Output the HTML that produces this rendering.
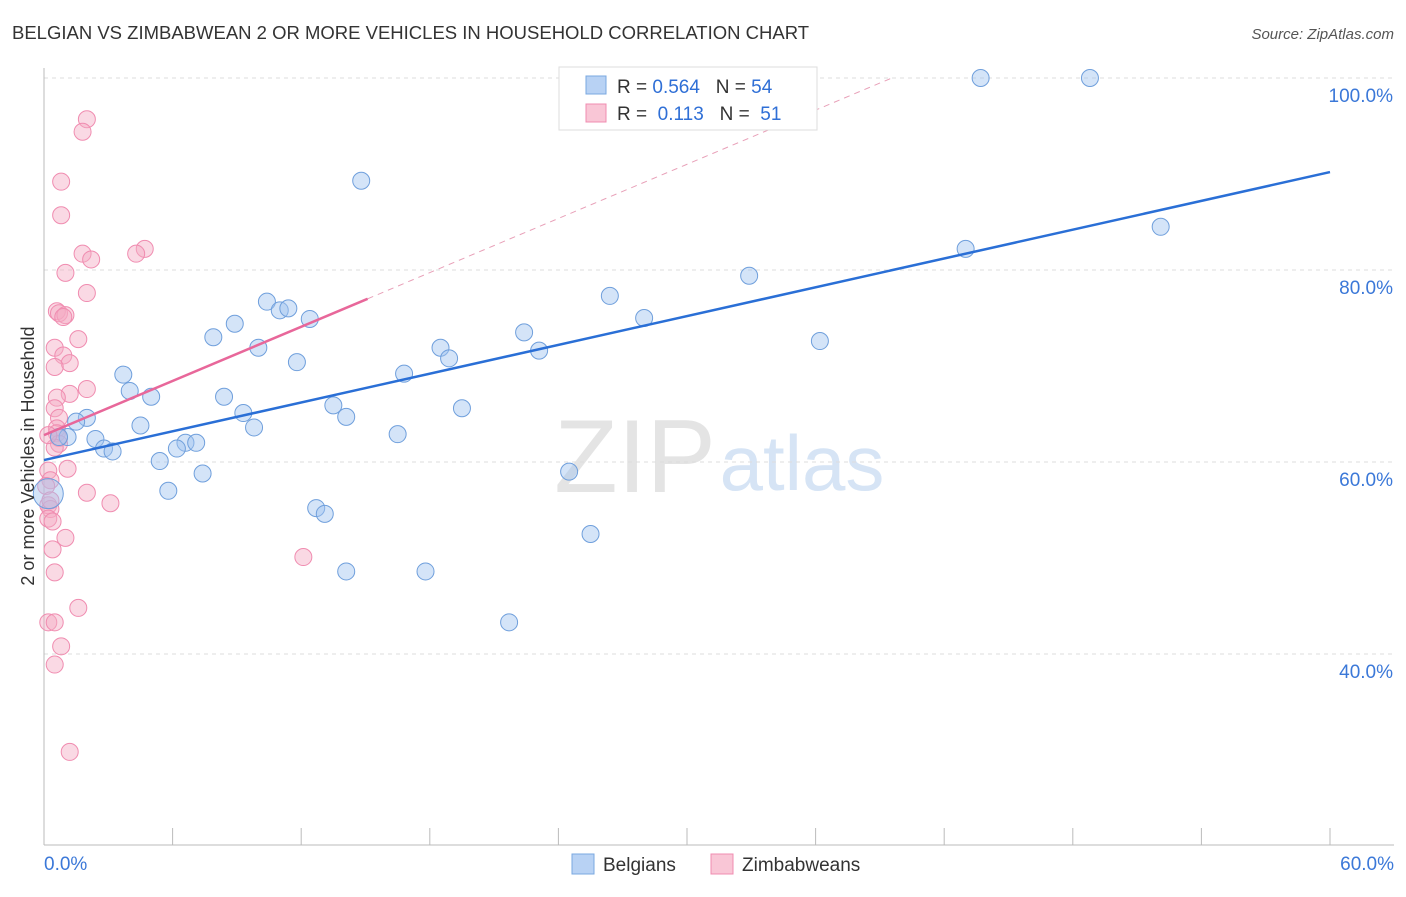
<!DOCTYPE html>
<html><head><meta charset="utf-8"><style>
body{margin:0;background:#fff;font-family:"Liberation Sans",sans-serif;}
svg text{font-family:"Liberation Sans",sans-serif;}
</style></head><body>
<svg id="chart" width="1406" height="892">
<text x="12" y="39" font-size="18.5" fill="#333">BELGIAN VS ZIMBABWEAN 2 OR MORE VEHICLES IN HOUSEHOLD CORRELATION CHART</text>
<text x="1394" y="39" font-size="15" fill="#555" text-anchor="end" font-style="italic">Source: ZipAtlas.com</text>
<g>
<text x="635" y="492" font-size="104" fill="#e4e4e4" text-anchor="middle" font-family="Liberation Serif,serif">ZIP</text>
<text x="802" y="490" font-size="78" fill="#d6e4f5" text-anchor="middle">atlas</text>
</g>
<g id="grid"></g>
<g id="axes"></g>
<g id="marks"></g>
<text transform="translate(34,456) rotate(-90)" font-size="18" fill="#333" text-anchor="middle">2 or more Vehicles in Household</text>
<g>
<rect x="559" y="67" width="258" height="63" fill="#fff" stroke="#ddd"/>
<rect x="586" y="76" width="20" height="18" fill="#b8d2f4" stroke="#7aa8e0"/>
<rect x="586" y="104" width="20" height="18" fill="#f9c6d6" stroke="#f08cb0"/>
<text x="617" y="93" font-size="19" fill="#333">R = <tspan fill="#2f6fd6">0.564</tspan>&#160;&#160;&#160;N = <tspan fill="#2f6fd6">54</tspan></text>
<text x="617" y="120" font-size="19" fill="#333">R = &#160;<tspan fill="#2f6fd6">0.113</tspan>&#160;&#160;&#160;N = &#160;<tspan fill="#2f6fd6">51</tspan></text>
</g>
<g>
<rect x="572" y="854" width="22" height="20" fill="#b8d2f4" stroke="#7aa8e0"/>
<text x="603" y="871" font-size="19" fill="#333">Belgians</text>
<rect x="711" y="854" width="22" height="20" fill="#f9c6d6" stroke="#f08cb0"/>
<text x="742" y="871" font-size="19" fill="#333">Zimbabweans</text>
</g>
</svg>
<script>
const yTicks=[40,60,80,100];
const yTickLabels=["40.0%","60.0%","80.0%","100.0%"];
const xTickVals=[0,6,12,18,24,30,36,42,48,54,60];
const xLabelVals=[0,60];
const xLabels=["0.0%","60.0%"];
const belgX=[43.7,48.8,52.1,43.0,32.9,36.2,26.4,28.0,22.4,23.1,18.5,18.9,16.8,19.5,16.5,24.5,25.5,21.7,17.8,14.1,12.7,13.1,14.8,10.4,11.0,11.4,12.4,11.8,10.0,8.9,7.9,8.4,9.3,9.8,13.5,14.1,5.0,4.0,3.7,4.5,6.6,7.1,6.2,5.4,5.8,7.4,2.4,2.8,3.2,2.0,1.5,1.1,0.7,0.2];
const belgY=[100,100,84.5,82.2,79.4,72.6,77.3,75.0,73.5,71.6,71.9,70.8,69.2,65.6,62.9,59.0,52.5,43.3,48.6,48.6,55.2,54.6,89.3,76.7,75.8,76.0,74.9,70.4,71.9,74.4,73.0,66.8,65.1,63.6,65.9,64.7,66.8,67.4,69.1,63.8,62.0,62.0,61.4,60.1,57.0,58.8,62.4,61.4,61.1,64.6,64.2,62.6,62.6,56.7];
const zimX=[2.0,1.8,0.8,0.8,4.7,4.3,1.8,2.2,1.0,2.0,0.6,0.7,1.0,0.9,1.6,0.5,0.9,1.2,0.5,2.0,1.2,0.6,0.5,0.7,0.6,0.6,0.7,0.7,0.5,1.1,0.2,0.3,2.0,3.1,0.2,0.3,0.2,0.4,1.0,0.4,0.5,12.1,1.6,0.2,0.5,0.8,0.5,1.2,0.1,0.3,0.2];
const zimY=[95.7,94.4,89.2,85.7,82.2,81.7,81.7,81.1,79.7,77.6,75.7,75.5,75.3,75.1,72.8,71.9,71.1,70.3,69.9,67.6,67.1,66.7,65.6,64.6,63.5,63.0,62.5,61.9,61.5,59.3,59.1,58.1,56.8,55.7,55.5,55.1,54.1,53.8,52.1,50.9,48.5,50.1,44.8,43.3,43.3,40.8,38.9,29.8,57.5,56.0,62.8];
const belgTrend=[60.2,90.2];
const zimTrend=[62.8,77.0];
const zimTrendEnd=15.1;

const NS="http://www.w3.org/2000/svg";
const X=v=>44+v*(1286/60);
const Y=v=>78+(100-v)*9.6;
function mk(tag,attrs,parent){const e=document.createElementNS(NS,tag);for(const k in attrs)e.setAttribute(k,attrs[k]);document.getElementById(parent).appendChild(e);return e;}
yTicks.forEach((t,i)=>{
  const l=mk('line',{x1:44,x2:1394,y1:Y(t),y2:Y(t),stroke:'#ddd','stroke-dasharray':'4,4'},'grid');
  
  
  const tx=mk('text',{x:1393,y:Y(t)+24,'font-size':19,fill:'#3b78d8','text-anchor':'end'},'axes');
  tx.textContent=yTickLabels[i];
  
  
});
const ax=mk('line',{x1:44,x2:1394,y1:845,y2:845,stroke:'#bbb'},'axes');


const ay=mk('line',{x1:44,x2:44,y1:68,y2:845,stroke:'#bbb'},'axes');


xTickVals.forEach(t=>{
  const l=mk('line',{x1:X(t),x2:X(t),y1:828,y2:845,stroke:'#bbb'},'axes');
  
  
});
xLabelVals.forEach((t,i)=>{
  const tx=mk('text',{x:X(t)+(i==0?0:64),y:870,'font-size':19,fill:'#3b78d8','text-anchor':i==0?'start':'end'},'axes');
  tx.textContent=xLabels[i];
  
  
});
zimX.forEach((x,i)=>{
  const c=mk('circle',{cx:X(x),cy:Y(zimY[i]),r:8.5,fill:'rgba(245,170,195,0.45)',stroke:'#f08cb0','stroke-width':1},'marks');
  
  
});
belgX.forEach((x,i)=>{
  const big=(i===belgX.length-1);
  const c=mk('circle',{cx:X(x),cy:Y(belgY[i]),r:big?15:8.5,fill:'rgba(160,196,240,0.45)',stroke:'#6f9fdc','stroke-width':1},'marks');
  
  
});
const slope=(zimTrend[1]-zimTrend[0])/zimTrendEnd;
const xEndDash=(100-zimTrend[0])/slope;
const d=mk('line',{x1:X(zimTrendEnd),y1:Y(zimTrend[1]),x2:X(xEndDash),y2:Y(100),stroke:'#e8a0b8','stroke-dasharray':'6,5','stroke-width':1},'marks');


const zl=mk('line',{x1:X(0),y1:Y(zimTrend[0]),x2:X(zimTrendEnd),y2:Y(zimTrend[1]),stroke:'#e8679a','stroke-width':2.5},'marks');


const bl=mk('line',{x1:X(0),y1:Y(belgTrend[0]),x2:X(60),y2:Y(belgTrend[1]),stroke:'#2a6fd6','stroke-width':2.5},'marks');


</script>
</body></html>
